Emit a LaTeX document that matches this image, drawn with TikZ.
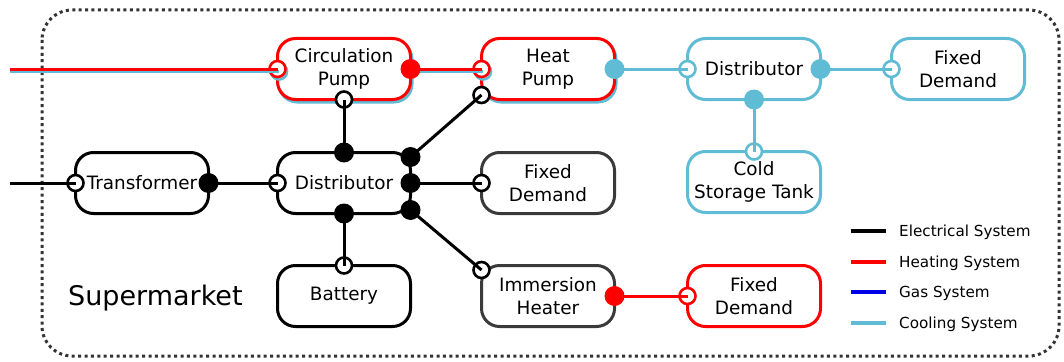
\documentclass[tikz,border=0pt]{standalone}
\usepackage{fontspec}
\setmainfont{DejaVu Sans}
\usetikzlibrary{calc}

\definecolor{cool}{RGB}{96,188,212}
\definecolor{heat}{RGB}{255,0,0}
\definecolor{gas}{RGB}{0,0,230}
\definecolor{darkbox}{RGB}{58,58,58}
\definecolor{sitefr}{RGB}{51,51,51}

\newcommand{\boxfont}{\fontsize{18.4}{23}\selectfont}
\newcommand{\keyfont}{\fontsize{15.2}{18}\selectfont}
\newcommand{\sitefont}{\fontsize{27}{32}\selectfont}

\tikzset{
  unit box/.style={draw=#1, line width=3pt, rounded corners=18pt,
    minimum width=133pt, minimum height=61pt, fill=white, align=center,
    inner sep=0pt, outer sep=0pt, font=\boxfont, text=black},
  openport/.style={circle, draw=#1, fill=white, line width=2.6pt,
    minimum size=16pt, inner sep=0pt},
  fullport/.style={circle, fill=#1, minimum size=20pt, inner sep=0pt},
  link/.style={line width=3pt, draw=#1},
  keyline/.style={line width=3.5pt, draw=#1},
  keytext/.style={anchor=base west, font=\keyfont, inner sep=0pt},
}

\begin{document}
\begin{tikzpicture}[x=1pt,y=-1pt]
\useasboundingbox (0,0) rectangle (1064,361);

% site boundary
\draw[sitefr, line width=3pt, dash pattern=on 3pt off 3.4pt, rounded corners=30pt]
  (42,10) rectangle (1059,356);
\node[font=\sitefont, anchor=base west, inner sep=0pt] (site) at (68,305) {Supermarket};

% cooling shadows of the units that also carry heat
\node[unit box=cool] (CPs) at (345.5,71.5) {};
\node[unit box=cool] (HPs) at (549.5,71.5) {};

% units
\node[unit box=heat] (CP) at (344,69) {Circulation\\Pump};
\node[unit box=heat] (HP) at (548,69) {Heat\\Pump};
\node[unit box=cool] (CD) at (754,69) {Distributor};
\node[unit box=cool] (CF) at (958,69) {Fixed\\Demand};
\node[unit box=cool] (CS) at (754,182) {Cold\\Storage Tank};
\node[unit box=black] (TR) at (142,183) {Transformer};
\node[unit box=black] (ED) at (344,183) {Distributor};
\node[unit box=darkbox] (EF) at (548,183) {Fixed\\Demand};
\node[unit box=black] (BA) at (344,296) {Battery};
\node[unit box=darkbox] (IH) at (548,296) {Immersion\\Heater};
\node[unit box=heat] (HF) at (754,296) {Fixed\\Demand};

% free line ends
\coordinate (inH) at (10,69);
\coordinate (inC) at (10,71.5);
\coordinate (inE) at (10,183);

% open (input) ports
\node[openport=cool] (cpWs) at (CPs.west) {};
\node[openport=cool] (hpWs) at (HPs.west) {};
\node[openport=heat] (cpW) at (CP.west) {};
\node[openport=heat] (hpW) at (HP.west) {};
\node[openport=black] (cpS) at (CP.south) {};
\node[openport=black] (hpE) at ($(HP.west)+(0,26)$) {};
\node[openport=cool] (cdW) at (CD.west) {};
\node[openport=cool] (cfW) at (CF.west) {};
\node[openport=cool] (csN) at (CS.north) {};
\node[openport=black] (trW) at (TR.west) {};
\node[openport=black] (edW) at (ED.west) {};
\node[openport=black] (efW) at (EF.west) {};
\node[openport=black] (baN) at (BA.north) {};
\node[openport=black] (ihW) at ($(IH.west)+(0,-26)$) {};
\node[openport=heat] (hfW) at (HF.west) {};

% output port positions
\coordinate (cpEp) at (CP.east);
\coordinate (cpEps) at (CPs.east);
\coordinate (hpEp) at (HP.east);
\coordinate (cdEp) at (CD.east);
\coordinate (cdSp) at (CD.south);
\coordinate (trEp) at (TR.east);
\coordinate (edNp) at (ED.north);
\coordinate (edSp) at (ED.south);
\coordinate (edNEp) at ($(ED.east)+(0,-26)$);
\coordinate (edEp) at (ED.east);
\coordinate (edSEp) at ($(ED.east)+(0,27)$);
\coordinate (ihEp) at (IH.east);

% cooling lines under the heating lines
\draw[link=cool] (inC) -- (cpWs.center);
\draw[link=cool] (cpEps) -- (hpWs.center);

% heating system
\draw[link=heat] (inH) -- (cpW.center);
\draw[link=heat] (cpEp) -- (hpW.center);
\draw[link=heat] (ihEp) -- (hfW.center);

% cooling system
\draw[link=cool] (hpEp) -- (cdW.center);
\draw[link=cool] (cdEp) -- (cfW.center);
\draw[link=cool] (cdSp) -- (csN.center);

% electrical system
\draw[link=black] (inE) -- (trW.center);
\draw[link=black] (trEp) -- (edW.center);
\draw[link=black] (edNp) -- (cpS.center);
\draw[link=black] (edNEp) -- (hpE.center);
\draw[link=black] (edEp) -- (efW.center);
\draw[link=black] (edSEp) -- (ihW.center);
\draw[link=black] (edSp) -- (baN.center);

% filled (output) ports
\node[fullport=heat] (cpE) at (cpEp) {};
\node[fullport=cool] (hpC) at (hpEp) {};
\node[fullport=cool] (cdE) at (cdEp) {};
\node[fullport=cool] (cdS) at (cdSp) {};
\node[fullport=black] (trE) at (trEp) {};
\node[fullport=black] (edN) at (edNp) {};
\node[fullport=black] (edS) at (edSp) {};
\node[fullport=black] (edNE) at (edNEp) {};
\node[fullport=black] (edE) at (edEp) {};
\node[fullport=black] (edSE) at (edSEp) {};
\node[fullport=heat] (ihE) at (ihEp) {};

% key
\draw[keyline=black] (851,231) -- (886,231);
\draw[keyline=heat]  (851,262) -- (886,262);
\draw[keyline=gas]   (851,292) -- (886,292);
\draw[keyline=cool]  (851,323) -- (886,323);
\node[keytext] (k1) at (899,236.5) {Electrical System};
\node[keytext] (k2) at (899,267.5) {Heating System};
\node[keytext] (k3) at (899,297.5) {Gas System};
\node[keytext] (k4) at (899,328.5) {Cooling System};
\end{tikzpicture}
\end{document}
